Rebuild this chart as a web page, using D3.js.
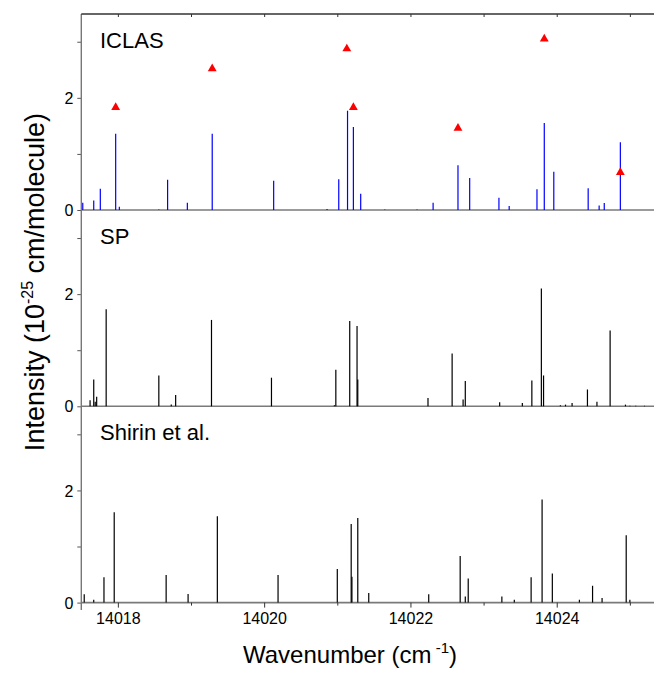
<!DOCTYPE html>
<html><head><meta charset="utf-8">
<script src="https://cdn.jsdelivr.net/npm/d3@7"></script>
<style>body{margin:0;background:#fff;} text{font-family:"Liberation Sans",Arial,sans-serif;}</style>
</head><body><svg id="c" width="654" height="673"></svg>
<script>
const iclasPos = [14017.52,14017.67,14017.76,14017.97,14018.02,14018.56,14018.68,14018.95,14019.29,14020.13,14020.86,14021.02,14021.14,14021.22,14021.32,14021.65,14022.09,14022.31,14022.65,14022.81,14023.21,14023.35,14023.73,14023.83,14023.96,14024.43,14024.58,14024.65,14024.87];
const iclasInt = [0.13,0.17,0.38,1.36,0.06,0.01,0.54,0.13,1.36,0.52,0.02,0.55,1.77,1.48,0.29,0.01,0.01,0.13,0.80,0.57,0.22,0.07,0.37,1.55,0.68,0.39,0.08,0.125,1.21];
const triPos = [14017.97,14019.29,14021.13,14021.22,14022.65,14023.83,14024.87];
const triInt = [1.83,2.52,2.875,1.83,1.46,3.05,0.67];
const spPos = [14017.62,14017.67,14017.69,14017.71,14017.84,14018.56,14018.73,14018.79,14019.28,14020.10,14020.96,14020.98,14021.17,14021.27,14021.28,14022.24,14022.57,14022.72,14022.75,14023.22,14023.53,14023.66,14023.79,14023.82,14024.05,14024.12,14024.21,14024.42,14024.55,14024.73,14024.94,14025.00,14025.08,14025.20];
const spInt = [0.11,0.48,0.08,0.17,1.73,0.55,0.03,0.20,1.54,0.51,0.02,0.65,1.52,1.43,0.48,0.15,0.94,0.12,0.45,0.07,0.06,0.46,2.10,0.55,0.02,0.03,0.06,0.30,0.08,1.35,0.03,0.01,0.01,0.01];
const shPos = [14017.54,14017.67,14017.81,14017.95,14018.66,14018.96,14019.36,14020.19,14021.00,14021.19,14021.20,14021.28,14021.43,14022.25,14022.68,14022.75,14022.79,14023.25,14023.42,14023.65,14023.80,14023.94,14024.31,14024.49,14024.62,14024.95,14025.00];
const shInt = [0.15,0.05,0.45,1.61,0.49,0.155,1.54,0.49,0.60,1.40,0.46,1.51,0.17,0.15,0.83,0.11,0.43,0.11,0.05,0.45,1.84,0.52,0.05,0.30,0.08,1.20,0.05];
const panelNames = ["ICLAS","SP","Shirin et al."];
const yTicks = [0,1,2,3];
const yTickLabels = ["0","","2",""];
const xTicks = [14018,14019,14020,14021,14022,14023,14024,14025];

const svg = d3.select("#c");
const x = d3.scaleLinear().domain([14017.5,14025.33]).range([81.3,654]);
const panelH = 196.3, firstBottom = 210;
const panels = [
  {name:panelNames[0], pos:iclasPos, val:iclasInt, color:"#0000ff"},
  {name:panelNames[1], pos:spPos, val:spInt, color:"#000"},
  {name:panelNames[2], pos:shPos, val:shInt, color:"#000"}
];
panels.forEach((p,i)=>{
  const bottom = firstBottom + i*panelH;
  const y = d3.scaleLinear().domain([0,3.5]).range([bottom, bottom-panelH]);
  const g = svg.append("g");
  g.append("line").attr("x1",81.3).attr("x2",654).attr("y1",bottom).attr("y2",bottom)
    .attr("stroke","#7a7a7a").attr("stroke-width",1.6);
  g.selectAll("line.s").data(p.pos.map((d,k)=>[d,p.val[k]])).join("line").attr("class","s")
    .attr("x1",d=>x(d[0])).attr("x2",d=>x(d[0])).attr("y1",bottom).attr("y2",d=>y(d[1]))
    .attr("stroke",p.color).attr("stroke-width",1.2);
  const ax = d3.axisLeft(y).tickValues(yTicks).tickSize(4).tickFormat((d,k)=>yTickLabels[k]);
  const ag = svg.append("g").attr("transform","translate(81.3,0)").call(ax);
  ag.select(".domain").remove();
  ag.selectAll(".tick line").attr("stroke","#555");
  ag.selectAll(".tick text").attr("font-size",16).attr("fill","#000").attr("x",-8).attr("dy","0.35em")
    .style("font-family","'Liberation Sans',Arial,sans-serif");
  svg.append("text").attr("x",100).attr("y",bottom-panelH+34).attr("font-size",22).text(p.name);
  if(i===0){
    const tri = d3.symbol().type(d3.symbolTriangle).size(34);
    g.selectAll("path.t").data(triPos.map((d,k)=>[d,triInt[k]])).join("path").attr("class","t")
      .attr("d",tri).attr("transform",d=>`translate(${x(d[0])},${y(d[1])})`).attr("fill","#ff0000");
  }
});
const bottomY = firstBottom + 2*panelH;
svg.append("line").attr("x1",81.3).attr("x2",81.3).attr("y1",14).attr("y2",610).attr("stroke","#777").attr("stroke-width",1.4);
svg.append("line").attr("x1",81.3).attr("x2",654).attr("y1",14).attr("y2",14).attr("stroke","#333").attr("stroke-width",1.4);
svg.append("g").attr("transform","translate(0,14)").call(d3.axisBottom(x).tickValues(xTicks).tickSize(3).tickFormat(""))
  .call(g=>{g.select(".domain").remove(); g.selectAll("line").attr("stroke","#333");});
const bx = d3.axisBottom(x).tickValues(xTicks).tickSize(5).tickFormat(d=>d%2===0?d3.format("d")(d):"");
const bg = svg.append("g").attr("transform",`translate(0,${bottomY})`).call(bx);
bg.select(".domain").remove();
bg.selectAll(".tick line").attr("stroke","#333").attr("y2",d=>d%2===0?5:3);
bg.selectAll(".tick text").attr("font-size",16).attr("fill","#000").attr("y",10)
  .style("font-family","'Liberation Sans',Arial,sans-serif");
const xl = svg.append("text").attr("x",350).attr("y",663).attr("text-anchor","middle").attr("font-size",24);
xl.append("tspan").text("Wavenumber (cm");
xl.append("tspan").attr("font-size",15).attr("dy",-10).text(" -1");
xl.append("tspan").attr("dy",10).text(")");
const yl = svg.append("text").attr("transform","translate(44,282) rotate(-90)").attr("text-anchor","middle").attr("font-size",27);
yl.append("tspan").text("Intensity (10");
yl.append("tspan").attr("font-size",16).attr("dy",-11).text("-25");
yl.append("tspan").attr("dy",11).text(" cm/molecule)");
</script></body></html>
